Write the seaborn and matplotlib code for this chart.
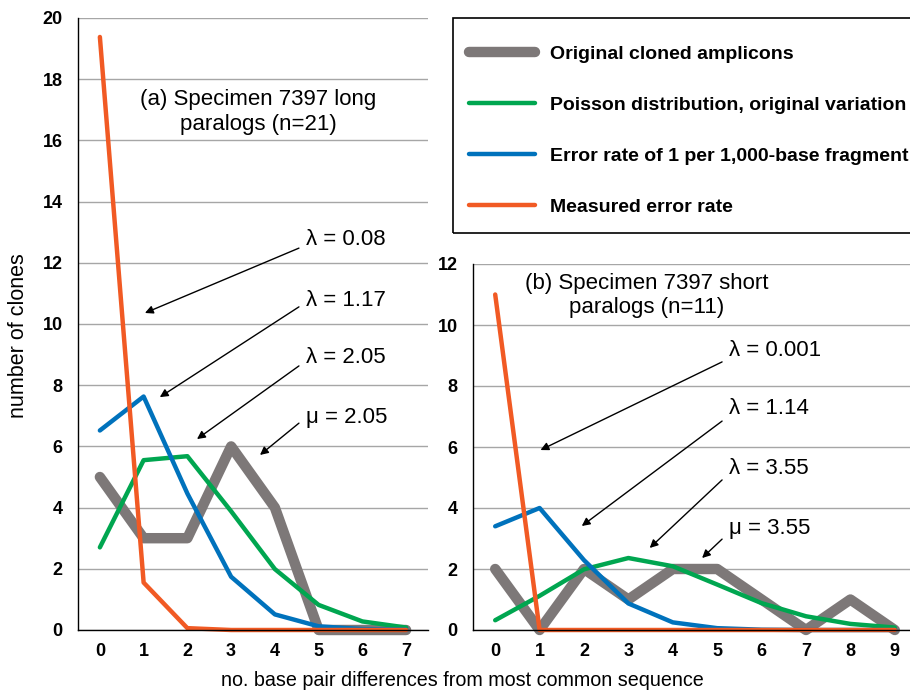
import pandas as pd
import matplotlib.pyplot as plt
import seaborn as sns
from matplotlib.patches import Rectangle
from matplotlib.ticker import MultipleLocator

sns.set_style('white')
plt.rcParams['font.family'] = ['Liberation Sans', 'DejaVu Sans']
plt.rcParams['text.color'] = 'black'
plt.rcParams['xtick.color'] = 'black'
plt.rcParams['ytick.color'] = 'black'

series_names = ['Original cloned amplicons',
                'Poisson distribution, original variation',
                'Error rate of 1 per 1,000-base fragment',
                'Measured error rate']
colors = ['#7d7878', '#00a650', '#0072bc', '#f15a24']
widths = [7.5, 3.2, 3.2, 3.2]

# (a) long paralogs, n=21
diffs_a = [0, 1, 2, 3, 4, 5, 6, 7]
original_a = [5, 3, 3, 6, 4, 0, 0, 0]
poisson_a = [2.7, 5.55, 5.68, 3.88, 1.99, 0.82, 0.28, 0.08]
err1000_a = [6.52, 7.63, 4.46, 1.74, 0.51, 0.12, 0.03, 0.01]
measured_a = [19.38, 1.55, 0.06, 0.0, 0.0, 0.0, 0.0, 0.0]

# (b) short paralogs, n=11
diffs_b = [0, 1, 2, 3, 4, 5, 6, 7, 8, 9]
original_b = [2, 0, 2, 1, 2, 2, 1, 0, 1, 0]
poisson_b = [0.32, 1.12, 1.99, 2.36, 2.09, 1.49, 0.88, 0.45, 0.2, 0.08]
err1000_b = [3.4, 4.0, 2.29, 0.87, 0.25, 0.06, 0.01, 0.0, 0.0, 0.0]
measured_b = [11.0, 0.0, 0.0, 0.0, 0.0, 0.0, 0.0, 0.0, 0.0, 0.0]

labels_a = ['λ = 0.08', 'λ = 1.17', 'λ = 2.05', 'μ = 2.05']
labels_b = ['λ = 0.001', 'λ = 1.14', 'λ = 3.55', 'μ = 3.55']


def long_df(diffs, cols):
    parts = []
    for name, vals in zip(series_names, cols):
        parts.append(pd.DataFrame({'diff': diffs, 'clones': vals, 'series': name}))
    return pd.concat(parts, ignore_index=True)


df_a = long_df(diffs_a, [original_a, poisson_a, err1000_a, measured_a])
df_b = long_df(diffs_b, [original_b, poisson_b, err1000_b, measured_b])

fig = plt.figure(figsize=(9.1, 6.93), dpi=100)
ax_a = fig.add_axes([78 / 910, 63 / 693, 350 / 910, 612 / 693])
ax_b = fig.add_axes([473 / 910, 63 / 693, 444 / 910, 366 / 693])

for ax, df, n, ymax in [(ax_a, df_a, 8, 20), (ax_b, df_b, 10, 12)]:
    sns.lineplot(data=df, x='diff', y='clones', hue='series', size='series',
                 hue_order=series_names, size_order=series_names,
                 palette=dict(zip(series_names, colors)),
                 sizes=dict(zip(series_names, widths)),
                 errorbar=None, legend=False, ax=ax)
    for ln in ax.lines:
        ln.set_solid_capstyle('round')
        ln.set_solid_joinstyle('round')
        ln.set_clip_on(False)
    ax.set_xlim(-0.5, n - 0.5)
    ax.set_ylim(0, ymax)
    ax.yaxis.set_major_locator(MultipleLocator(2))
    ax.set_xticks(range(n))
    ax.set_xticks([i + 0.5 for i in range(-1, n)], minor=True)
    ax.tick_params(axis='x', which='major', length=0, pad=9, labelsize=13)
    ax.tick_params(axis='x', which='minor', length=4, width=1, color='black', direction='out')
    ax.tick_params(axis='y', length=7, width=1, color='black', direction='out', pad=4, labelsize=13)
    for lab in ax.get_xticklabels() + ax.get_yticklabels():
        lab.set_fontweight('bold')
    ax.grid(axis='y', color='#a6a6a6', lw=1)
    ax.set_axisbelow(True)
    for s in ['top', 'right']:
        ax.spines[s].set_visible(False)
    for s in ['left', 'bottom']:
        ax.spines[s].set_color('black')
        ax.spines[s].set_linewidth(1)
    ax.set_xlabel('')
    ax.set_ylabel('')
    ax.patch.set_alpha(0)

fig.text(19 / 910, 1 - 336 / 693, 'number of clones', rotation=90,
         ha='center', va='center', fontsize=15.5)
fig.text(462 / 910, 1 - 681 / 693, 'no. base pair differences from most common sequence',
         ha='center', va='center', fontsize=14.2)

ax_a.text(3.62, 16.93, '(a) Specimen 7397 long\nparalogs (n=21)', ha='center', va='center',
          fontsize=16, linespacing=1.2)
ax_b.text(3.42, 10.98, '(b) Specimen 7397 short\nparalogs (n=11)', ha='center', va='center',
          fontsize=16, linespacing=1.2)

# label positions and arrow start/end in data units
text_a = [(4.71, 12.75), (4.71, 10.78), (4.71, 8.89), (4.71, 6.93)]
arrow_a = [((4.55, 12.48), (1.03, 10.36)), ((4.55, 10.56), (1.37, 7.61)),
           ((4.55, 8.63), (2.22, 6.24)), ((4.55, 6.76), (3.66, 5.72))]
text_b = [(5.27, 9.18), (5.27, 7.25), (5.27, 5.28), (5.27, 3.34)]
arrow_b = [((5.11, 8.79), (1.02, 5.90)), ((5.11, 6.85), (1.95, 3.41)),
           ((5.11, 4.92), (3.48, 2.69)), ((5.11, 2.98), (4.66, 2.36))]

for ax, labs, tpos, apos in [(ax_a, labels_a, text_a, arrow_a), (ax_b, labels_b, text_b, arrow_b)]:
    for lab, (tx, ty), (st, en) in zip(labs, tpos, apos):
        ax.text(tx, ty, lab, ha='left', va='center', fontsize=16)
        ax.annotate('', xy=en, xytext=st,
                    arrowprops=dict(arrowstyle='-|>', color='black', lw=1,
                                    mutation_scale=12, shrinkA=0, shrinkB=0))

# legend box drawn separately, it runs off the right edge
fig.patches.append(Rectangle((453 / 910, 1 - 233 / 693), 470 / 910, 215 / 693,
                             transform=fig.transFigure, fill=False, ec='black', lw=1.2))
leg = fig.legend(handles=ax_a.lines[:4], labels=series_names, loc='upper left',
                 bbox_to_anchor=(469 / 910, 1 - 45 / 693), frameon=False,
                 prop=dict(weight='bold', size=14),
                 handlelength=3.4, labelspacing=1.72, borderpad=0, handletextpad=0.75,
                 borderaxespad=0)
for h in leg.get_lines():
    h.set_solid_capstyle('round')

fig.savefig('out.png', dpi=100)
